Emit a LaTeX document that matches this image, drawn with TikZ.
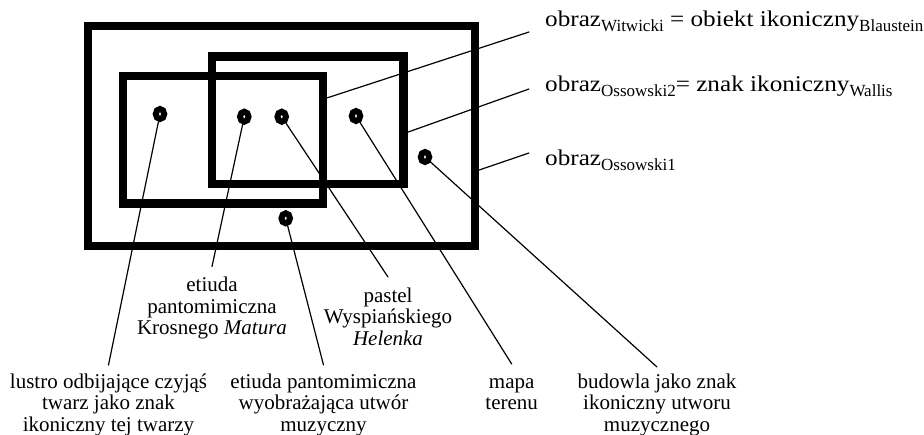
\documentclass[tikz,border=0pt]{standalone}
\usepackage{fontspec}
\setmainfont{Liberation Serif}
\newfontfamily\widefont[FakeStretch=1.12]{Liberation Serif}
\usetikzlibrary{shapes.geometric,calc}

% lowered, smaller index text after a term
\newcommand{\lowsub}[1]{\raisebox{-4.5pt}{\normalfont\fontsize{17}{17}\selectfont #1}}

\begin{document}
\begin{tikzpicture}[x=1pt,y=-1pt,
  frame/.style={draw=black, line width=8.3pt, rectangle, inner sep=0pt},
  spot/.style={ellipse, draw=black, fill=white, line width=6pt,
    minimum width=8.5pt, minimum height=10pt, inner sep=0pt},
  leader/.style={line width=1.2pt, line cap=round},
  caption/.style={font=\fontsize{21}{21.5}\selectfont, align=center,
    inner sep=0pt, outer xsep=0pt, anchor=north},
  term/.style={font=\widefont\fontsize{22.5}{22.5}\selectfont, inner sep=0pt, anchor=base west}]

\path[use as bounding box] (0,0) rectangle (924,435);

% the three frames
\node[frame, minimum width=387pt, minimum height=220pt] (outer) at (281.5,136) {};
\node[frame, minimum width=200pt, minimum height=127.5pt] (left) at (223.3,139.75) {};
\node[frame, minimum width=191.5pt, minimum height=127.5pt] (mid) at (307.75,120.25) {};

% points on the right edges of the frames
\coordinate (s1) at ($(left.north east)!0.191!(left.south east)$);
\coordinate (s2) at ($(mid.north east)!0.588!(mid.south east)$);
\coordinate (s3) at ($(outer.north east)!0.649!(outer.south east)$);

% terms on the right
\node[term] (w1) at (545,27) {obraz\lowsub{Witwicki} = obiekt ikoniczny\lowsub{Blaustein}};
\node[term] (w2) at (545,92) {obraz\lowsub{Ossowski2}= znak ikoniczny\lowsub{Wallis}};
\node[term] (w3) at (545,166) {obraz\lowsub{Ossowski1}};

\coordinate (t1) at (529,32);
\coordinate (t2) at (529,89);
\coordinate (t3) at (529,153);

\draw[leader] (s1) -- (t1);
\draw[leader] (s2) -- (t2);
\draw[leader] (s3) -- (t3);

% example points
\node[spot] (d1) at (160,114) {};
\node[spot] (d2) at (244.3,116.7) {};
\node[spot] (d3) at (281.7,116.7) {};
\node[spot] (d4) at (356,116) {};
\node[spot] (d5) at (425,157) {};
\node[spot] (d6) at (285.7,218.3) {};

% captions of the examples
\node[caption, outer ysep=8.6pt] (c1) at (108.5,365) {lustro odbijające czyjąś\\twarz jako znak\\ikoniczny tej twarzy};
\node[caption, outer ysep=10.5pt] (c2) at (212,266.5) {etiuda\\pantomimiczna\\Krosnego \textit{Matura}};
\node[caption, outer ysep=10.5pt] (c3) at (388,277) {pastel\\Wyspiańskiego\\\textit{Helenka}};
\node[caption, outer ysep=8.6pt] (c4) at (323.5,365) {etiuda pantomimiczna\\wyobrażająca utwór\\muzyczny};
\node[caption, outer ysep=9.6pt] (c5) at (511.7,364) {\vphantom{l}mapa\\terenu};
\node[caption, outer ysep=6.6pt] (c6) at (657,367) {budowla jako znak\\ikoniczny utworu\\muzycznego};

\draw[leader] (d1) -- (c1.north);
\draw[leader] (d2) -- (c2.north);
\draw[leader] (d3) -- (c3.north);
\draw[leader] (d6) -- (c4.north);
\draw[leader] (d4) -- (c5.north);
\draw[leader] (d5) -- (c6.north);
\end{tikzpicture}
\end{document}
